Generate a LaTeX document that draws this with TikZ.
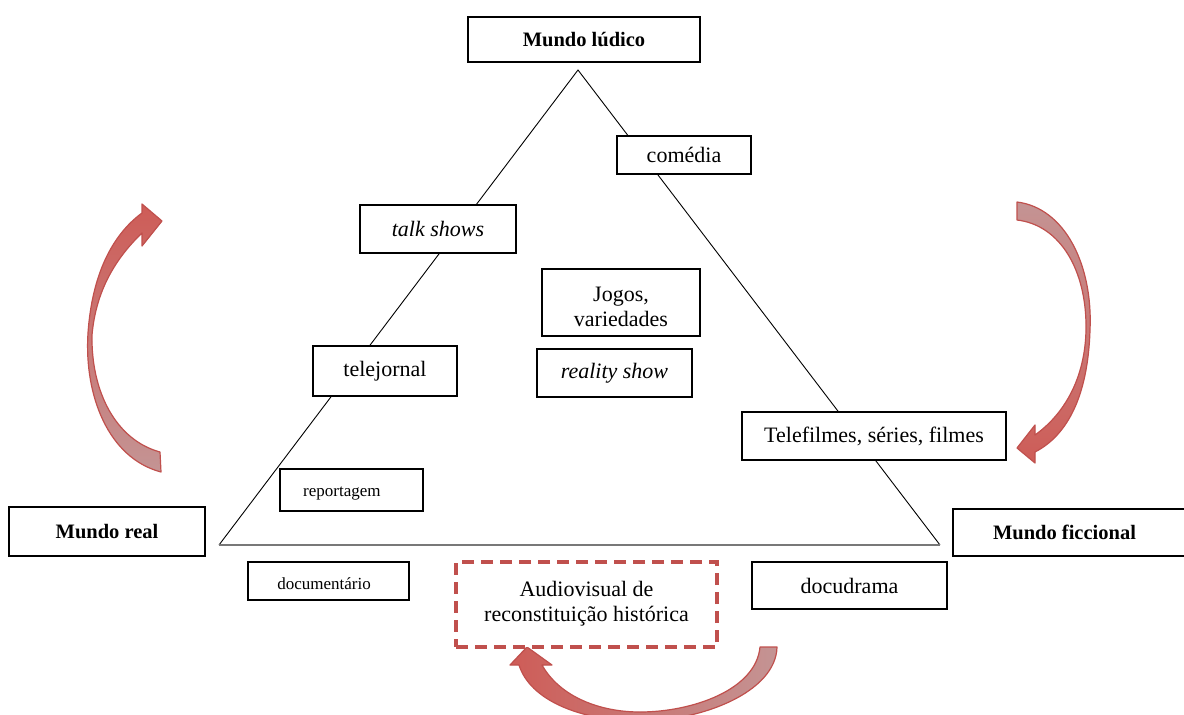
\documentclass[tikz,border=0pt]{standalone}
\usepackage{fontspec}
\setmainfont{Liberation Serif}
\definecolor{redline}{RGB}{192,80,77}
\definecolor{arrowhead}{RGB}{206,92,87}
\definecolor{arrowtail}{RGB}{196,148,148}
\definecolor{baseline}{RGB}{120,120,120}
\tikzset{
  box/.style={draw=black, line width=1.3pt, fill=white, inner sep=0pt, align=center,
    font=\fontsize{22}{25}\selectfont},
  bigbox/.style={box, line width=1.8pt, font=\fontsize{20.5}{24}\selectfont\bfseries},
  smallbox/.style={box, font=\fontsize{17}{20}\selectfont},
  dashbox/.style={box, draw=redline, line width=4pt, dash pattern=on 12pt off 7pt},
  bigarrow/.style={draw=redline, line width=1.2pt, line join=round},
  side/.style={draw=black, line width=0.9pt},
  basestyle/.style={draw=baseline, line width=2pt}
}
\begin{document}
\begin{tikzpicture}[x=1pt,y=-1pt]
\useasboundingbox (0,0) rectangle (1184,715);
\clip (0,0) rectangle (1184,715);
% triangle
\coordinate (apex) at (578,70);
\coordinate (bl) at (219,545);
\coordinate (br) at (940,545);
\draw[side] (bl) -- (apex) -- (br);
\draw[basestyle] (bl) -- (br);
% curved arrows
\path[bigarrow, top color=arrowhead, bottom color=arrowtail]
  (160,452) -- (161,472)
  .. controls (108,458) and (84,395) .. (88,333)
  .. controls (92,275) and (112,235) .. (142,213)
  -- (142,204) -- (162,221) -- (142,246) -- (142,233)
  .. controls (116,258) and (96,290) .. (92,335)
  .. controls (91,392) and (116,440) .. (160,452) -- cycle;
\path[bigarrow, top color=arrowtail, bottom color=arrowhead]
  (1017,202)
  .. controls (1065,208) and (1093,265) .. (1090,330)
  .. controls (1088,395) and (1068,435) .. (1035,452)
  -- (1035,463) -- (1017,448) -- (1035,425) -- (1035,435)
  .. controls (1063,415) and (1085,380) .. (1086,330)
  .. controls (1087,270) and (1060,225) .. (1017,220) -- cycle;
\path[bigarrow, left color=arrowhead, right color=arrowtail]
  (777,647)
  .. controls (776,692) and (702,721) .. (640,721)
  .. controls (580,721) and (530,700) .. (519,665)
  -- (510,665) -- (527,647) -- (552,665) -- (542,665)
  .. controls (560,697) and (600,712) .. (640,712)
  .. controls (692,712) and (756,690) .. (760,647) -- cycle;
% nodes
\node[bigbox, minimum width=232pt, minimum height=45pt] (ludico) at (584,39.5) {Mundo lúdico};
\node[box, minimum width=134pt, minimum height=38pt] (comedia) at (684,155) {comédia};
\node[box, minimum width=156pt, minimum height=48pt] (talk) at (438,229) {\itshape talk shows};
\node[box, minimum width=158pt, minimum height=67pt] (jogos) at (621,302.5) {};
\node[font=\fontsize{22}{25}\selectfont, align=center, inner sep=0pt] (jogostext) at (621,307) {Jogos,\\variedades};
\node[box, minimum width=144pt, minimum height=50pt] (telejornal) at (385,371) {telejornal};
\node[box, minimum width=155pt, minimum height=48pt] (reality) at (614.5,373) {\itshape reality show};
\node[box, minimum width=264pt, minimum height=48pt] (telefilmes) at (874,436) {Telefilmes, séries, filmes};
\node[smallbox, minimum width=143pt, minimum height=42pt] (reportagem) at (351.5,490) {};
\node[font=\fontsize{17}{20}\selectfont, anchor=west, inner sep=0pt] (reptext) at (303,494) {reportagem};
\node[bigbox, minimum width=196pt, minimum height=49pt] (real) at (107,531.5) {Mundo real};
\node[bigbox, minimum width=233pt, minimum height=47pt] (ficcional) at (1069.5,532.5) {\hspace*{-10pt}Mundo ficcional};
\node[smallbox, minimum width=161pt, minimum height=38pt] (documentario) at (328.5,581) {};
\node[font=\fontsize{17}{20}\selectfont, inner sep=0pt] (doctext) at (324,584) {documentário};
\node[dashbox, minimum width=261pt, minimum height=85pt] (audio) at (586.5,604.5) {};
\node[font=\fontsize{22}{25}\selectfont, align=center, inner sep=0pt] (audiotext) at (586.5,604) {Audiovisual de\\reconstituição histórica};
\node[box, minimum width=195pt, minimum height=47pt] (docudrama) at (849.5,585.5) {docudrama};
\end{tikzpicture}
\end{document}
